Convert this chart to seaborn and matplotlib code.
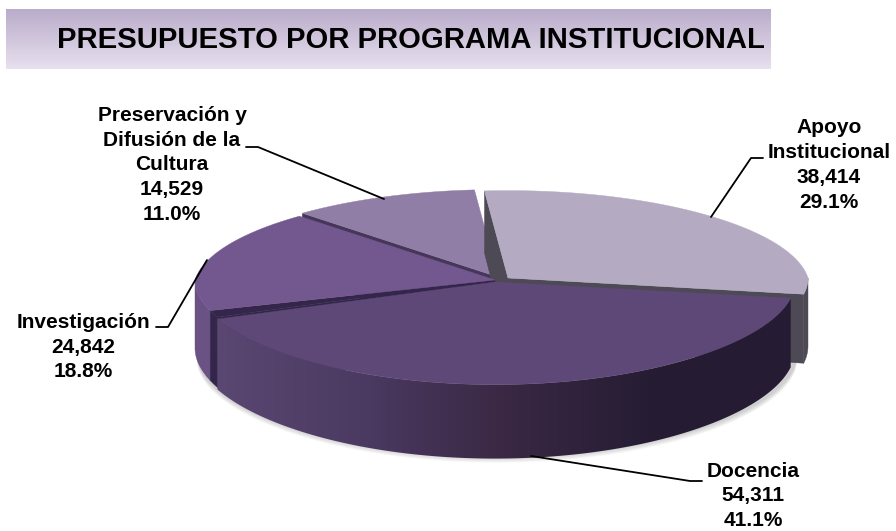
import numpy as np
import seaborn as sns
import matplotlib.pyplot as plt
from matplotlib.patches import Polygon

sns.set_theme(style="white")
plt.rcParams['font.family'] = ['Liberation Sans', 'DejaVu Sans']

programas = ["Apoyo\nInstitucional", "Docencia", "Investigación", "Preservación y\nDifusión de la\nCultura"]
presupuesto = [38414, 54311, 24842, 14529]
titulo = "PRESUPUESTO POR PROGRAMA INSTITUCIONAL"

# colours and pixel layout of the fake 3D pie
top_colors = ["#b4abc3", "#5e4877", "#735890", "#917ea6"]
face_colors = ["#4e4a55", "#33264a", "#33264a", "#46375a"]
centers = [(508, 278), (495, 282), (495, 280), (498, 277)]
RX, RY = 300, 95
label_pos = [(829, 165), (753, 496), (83, 347), (172, 165)]
leaders = [
    [(711, 217), (751, 158), (763, 158)],
    [(531, 456), (690, 481), (702, 481)],
    [(207, 260), (168, 327), (156, 327)],
    [(384, 199), (258, 147), (246, 147)],
]


def rim(center, t1, t2, depth=False):
    t = np.radians(np.linspace(t1, t2, 120))
    u, v = np.cos(t), np.sin(t)
    x = center[0] + RX * u * (1 + 0.1 * np.minimum(v, 0))
    y = center[1] + RY * v * (1 + 0.08 * v)
    if depth:
        y = y + 68 + 6 * v
    return np.column_stack([x, y])


def side(center, t1, t2):
    return np.vstack([rim(center, t1, t2), rim(center, t1, t2, True)[::-1]])


def cut_face(center, t):
    edge = rim(center, t, t + 0.01)[0]
    return [center, edge, (edge[0], edge[1] + 68 + 6 * np.sin(np.radians(t))), (center[0], center[1] + 68)]


fig, ax = plt.subplots(figsize=(8.96, 5.31), dpi=100)
fig.subplots_adjust(0, 0, 1, 1)

# pie() gives the slice angles, y axis runs downwards so ccw reads clockwise
wedges, _ = ax.pie(presupuesto, startangle=-95, counterclock=True)
angles = [(w.theta1, w.theta2) for w in wedges]
for w in wedges:
    w.set_visible(False)
ax.set_aspect("auto")

# banner
banner = sns.blend_palette(["#baaccb", "#e7e0ee"], as_cmap=True)
ax.imshow(np.linspace(0, 1, 60)[:, None], extent=[6, 771, 69, 9], cmap=banner, aspect="auto", zorder=1)
ax.text(57, 40, titulo, fontsize=21.1, fontweight="bold", color="black", va="center", ha="left", zorder=2)

# soft shadow under the pie
for i in range(6):
    e = rim((497, 283 + 68 + i), 0, 180)
    ax.fill(e[:, 0], e[:, 1] + 4, color="#808080", alpha=0.07, lw=0, zorder=2)

z = 3
def add(points, color):
    global z
    ax.add_patch(Polygon(points, closed=True, fc=color, ec=color, lw=0.3, zorder=z))
    z += 1


def top(center, t1, t2, color):
    add(np.vstack([[center], rim(center, t1, t2)]), color)


# back to front: preservacion, apoyo, investigacion, docencia
t1, t2 = angles[3]
add(cut_face(centers[3], t1), face_colors[3])
top(centers[3], t1, t2, top_colors[3])

t1, t2 = angles[0]
add(cut_face(centers[0], t1), face_colors[0])
add(cut_face(centers[0], t2), face_colors[0])
add(side(centers[0], 0, t2), face_colors[0])
top(centers[0], t1, t2, top_colors[0])

t1, t2 = angles[2]
gap = 4
add(cut_face(centers[2], t1), face_colors[2])
add(side(centers[2], t1 + gap, 180), "#6a5285")
add(side(centers[2], t1, t1 + gap), face_colors[2])
top(centers[2], t1, t1 + gap, face_colors[2])
top(centers[2], t1 + gap, t2, top_colors[2])

t1, t2 = angles[1]
side_cmap = sns.blend_palette(["#5a4772", "#4b3a62", "#3a2844", "#261d34", "#251c33"], as_cmap=True)
clip = Polygon(side(centers[1], t1, t2), closed=True, transform=ax.transData, fc="none", ec="none")
ax.add_patch(clip)
img = ax.imshow(np.linspace(0, 1, 300)[None, :], extent=[216, 792, 470, 290], cmap=side_cmap, aspect="auto", zorder=z)
img.set_clip_path(clip)
z += 1
top(centers[1], t1, t2, top_colors[1])

# labels
total = sum(presupuesto)
for name, value, (x, y), line in zip(programas, presupuesto, label_pos, leaders):
    ax.text(x, y, f"{name}\n{value:,}\n{value / total:.1%}", ha="center", va="center", fontsize=15,
            fontweight="bold", color="black", linespacing=1.38, zorder=40)
    xs, ys = zip(*line)
    ax.plot(xs, ys, color="black", lw=1.3, zorder=39)

ax.set_xlim(0, 896)
ax.set_ylim(531, 0)
ax.axis("off")
plt.savefig("out.png", dpi=100)
